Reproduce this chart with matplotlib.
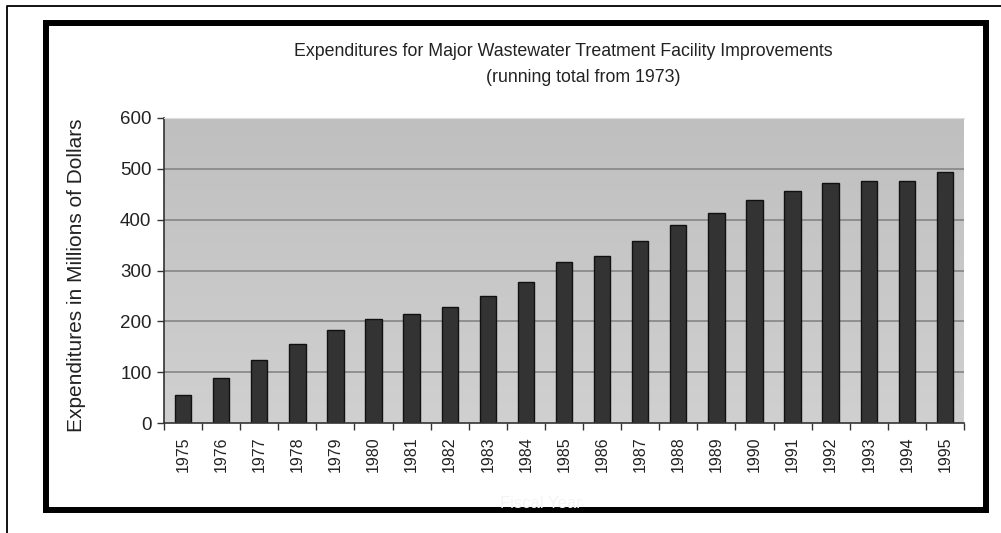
import numpy as np
import matplotlib
matplotlib.use('Agg')
import matplotlib.pyplot as plt
from matplotlib.lines import Line2D
from matplotlib.patches import Rectangle

plt.rcParams['font.family'] = ['Liberation Sans', 'DejaVu Sans']

years = ['1975', '1976', '1977', '1978', '1979', '1980', '1981', '1982', '1983', '1984', '1985',
         '1986', '1987', '1988', '1989', '1990', '1991', '1992', '1993', '1994', '1995']
expenditures = [55, 88, 124, 155, 182, 205, 214, 229, 250, 277, 317,
                329, 359, 390, 413, 439, 456, 473, 476, 476, 493]
yticks = [0, 100, 200, 300, 400, 500, 600]

W, H = 1001, 533
fig = plt.figure(figsize=(W / 100, H / 100), dpi=100)
fig.patch.set_facecolor('white')

# plot area in pixel coords
left, top, right, bottom = 164, 118, 964, 423
ax = fig.add_axes([left / W, 1 - bottom / H, (right - left) / W, (bottom - top) / H])

x = np.arange(len(years))
ax.set_xlim(-0.5, len(years) - 0.5)
ax.set_ylim(0, 600)

# gray gradient background
grad = np.linspace(0, 1, 256).reshape(-1, 1)
ax.imshow(grad, extent=[-0.5, len(years) - 0.5, 0, 600], aspect='auto', origin='lower',
          cmap=matplotlib.colors.LinearSegmentedColormap.from_list('bg', ['#d0d0d0', '#bfbfbf']),
          zorder=0)

for v in yticks[1:-1]:
    ax.axhline(v, color='#858585', lw=1.2, zorder=1)

ax.bar(x, expenditures, width=0.43, color='#333333', edgecolor='#111111', linewidth=1.0, zorder=2)

ax.spines['top'].set_color('#dddddd')
ax.spines['right'].set_visible(False)
ax.spines['left'].set_color('#333333')
ax.spines['bottom'].set_color('#333333')
ax.spines['left'].set_linewidth(1.2)
ax.spines['bottom'].set_linewidth(1.2)

ax.set_yticks(yticks)
ax.tick_params(axis='y', length=5, width=1, color='#333333', pad=4, labelsize=13.5, labelcolor='#222222')

ax.set_xticks(x)
ax.set_xticklabels(years, rotation=90)
ax.set_xticks(np.arange(-0.5, len(years)), minor=True)
ax.tick_params(axis='x', which='major', length=0, pad=9.5, labelsize=11.5, labelcolor='#222222')
ax.tick_params(axis='x', which='minor', length=5, width=1, color='#333333')

ax.set_ylabel('Expenditures in Millions of Dollars', fontsize=15, color='#222222')
ax.yaxis.label.set_va('center')
ax.yaxis.set_label_coords((77 - left) / (right - left), (bottom - 275) / (bottom - top))

fig.text(563 / W, 1 - 52 / H, 'Expenditures for Major Wastewater Treatment Facility Improvements',
         ha='center', va='center', fontsize=12.8, color='#222222')
fig.text(583 / W, 1 - 77 / H, '(running total from 1973)',
         ha='center', va='center', fontsize=12.8, color='#222222')
fig.text(541 / W, 1 - 503 / H, 'Fiscal Year', ha='center', va='center', fontsize=12, color='#f4f4f4')

# thin outer frame (left and top)
fig.add_artist(Line2D([7 / W, 7 / W, 1.0], [0, 1 - 6 / H, 1 - 6 / H], transform=fig.transFigure,
                      color='black', lw=1.3))
# thick chart border
fig.add_artist(Rectangle((46 / W, 1 - 510 / H), (986 - 46) / W, (510 - 23) / H,
                         transform=fig.transFigure, fill=False, edgecolor='black', lw=4.3))

fig.savefig('out.png', dpi=100)
